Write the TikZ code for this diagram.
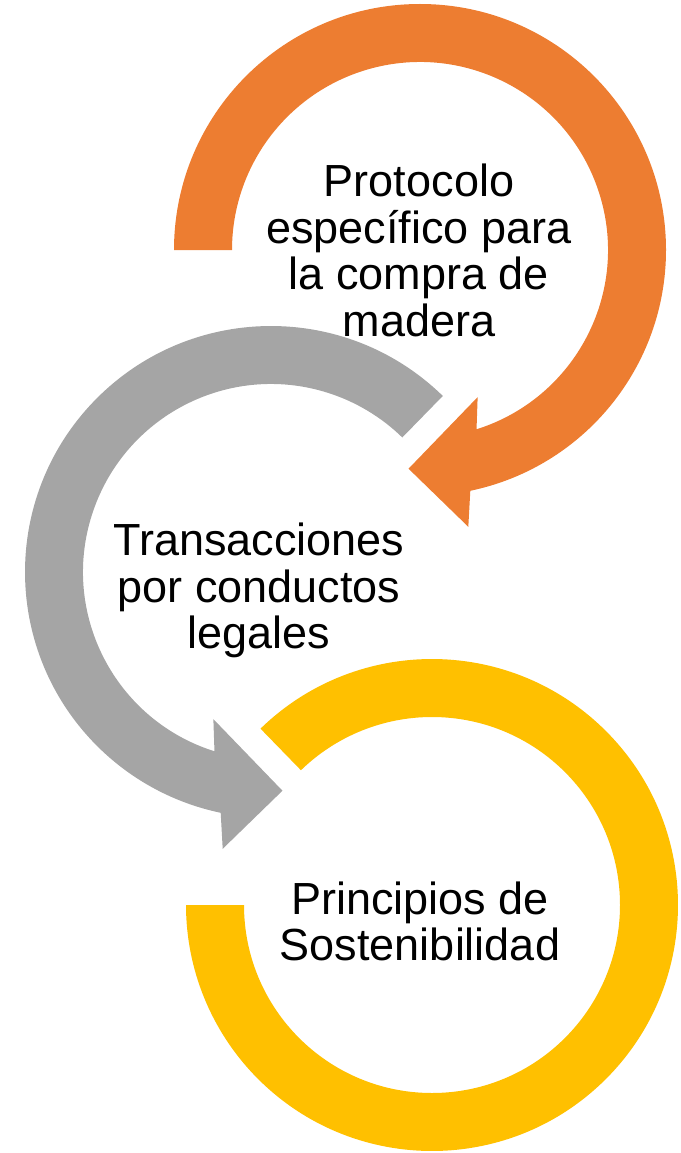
\documentclass[tikz,border=0pt]{standalone}
\usepackage{fontspec}
\setmainfont{Liberation Sans}
\usetikzlibrary{calc}
\definecolor{cOrange}{HTML}{ED7D31}
\definecolor{cGray}{HTML}{A5A5A5}
\definecolor{cYellow}{HTML}{FFC000}
\begin{document}
\begin{tikzpicture}[x=1pt,y=-1pt,
  lbl/.style={anchor=north,inner sep=0pt,align=center,text=black,
    font=\fontsize{45}{46.5}\selectfont}]
\useasboundingbox (0,0) rectangle (680,1153);
\coordinate (O) at (420,250);
\coordinate (G) at (271,572);
\coordinate (Y) at (432,905);
% orange arrow
\fill[cOrange] ($(O)+(180:246)$) arc[start angle=180,end angle=438.2,radius=246]
  -- ($(O)+(440.1:281)$) -- ($(O)+(453:219)$) -- ($(O)+(428.6:158)$)
  -- ($(O)+(432.5:188)$) arc[start angle=432.5,end angle=180,radius=188] -- cycle;
% gray arrow
\fill[cGray] ($(G)+(314.3:246)$) arc[start angle=314.3,end angle=101.8,radius=246]
  -- ($(G)+(99.9:281)$) -- ($(G)+(87:219)$) -- ($(G)+(111.4:158)$)
  -- ($(G)+(107.5:188)$) arc[start angle=107.5,end angle=314.3,radius=188] -- cycle;
% yellow ring
\fill[cYellow] ($(Y)+(225.8:246)$) arc[start angle=225.8,end angle=540,radius=246]
  -- ($(Y)+(180:188)$) arc[start angle=180,end angle=-134.2,radius=188] -- cycle;
\node[lbl] (t1) at (419,164) {Protocolo\\específico para\\la compra de\\madera};
\node[lbl] (t2) at (259,523) {Transacciones\\por conductos\\legales};
\node[lbl] (t3) at (420,881.5) {Principios de\\Sostenibilidad};
\end{tikzpicture}
\end{document}
